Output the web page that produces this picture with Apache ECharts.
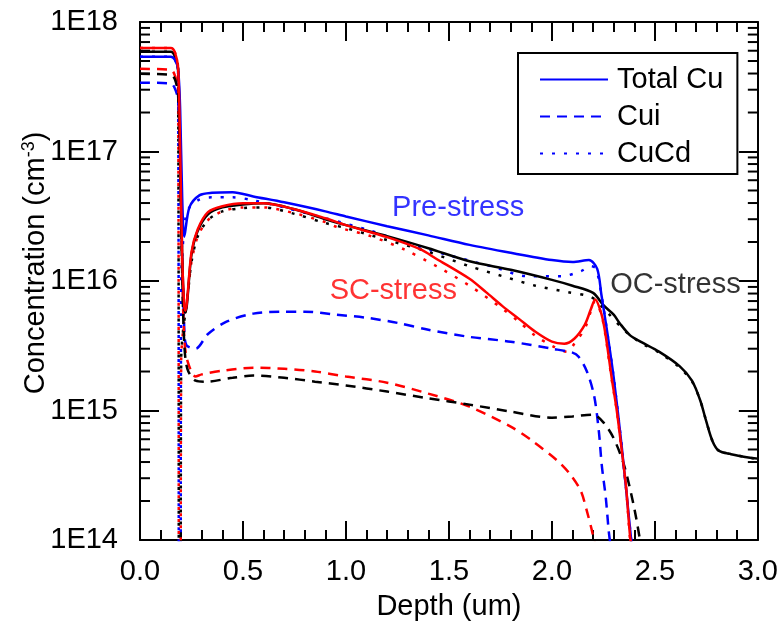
<!DOCTYPE html>
<html>
<head>
<meta charset="utf-8">
<script src="https://cdn.jsdelivr.net/npm/echarts@6/dist/echarts.min.js"></script>
<style>
  html, body { margin: 0; padding: 0; background: #fff; }
  #chart { width: 781px; height: 626px; }
</style>
</head>
<body>
<div id="chart"></div>
<script>
// Cu depth profiles: [depth (um), concentration (cm^-3)]
// Pre-stress (blue)
const preTotal = [[0, 5.4e17], [0.15, 5.4e17], [0.17, 5.1e17], [0.185, 4.3e17], [0.195, 2.1e17], [0.205, 4.3e16], [0.215, 2.2e16], [0.24, 3.7e16], [0.29, 4.6e16], [0.35, 4.8e16], [0.45, 4.85e16], [0.55, 4.5e16], [0.7, 4.05e16], [0.9, 3.45e16], [1.0, 3.15e16], [1.2, 2.65e16], [1.4, 2.25e16], [1.6, 1.9e16], [1.8, 1.65e16], [2.0, 1.45e16], [2.1, 1.4e16], [2.18, 1.45e16], [2.22, 1.24e16], [2.24, 7.9e15], [2.27, 3.9e15], [2.3, 1.8e15], [2.34, 5.1e14], [2.385, 1.0e14], [2.4, 6e13]];
const preCui = [[0, 3.4e17], [0.15, 3.35e17], [0.17, 3.05e17], [0.185, 2.5e17], [0.195, 8.7e16], [0.205, 1.5e16], [0.215, 4.3e15], [0.225, 3.2e15], [0.27, 3.0e15], [0.33, 3.9e15], [0.42, 4.85e15], [0.55, 5.6e15], [0.7, 5.8e15], [0.8, 5.8e15], [0.95, 5.5e15], [1.1, 5.2e15], [1.25, 4.75e15], [1.4, 4.2e15], [1.6, 3.7e15], [1.8, 3.4e15], [2.0, 3.0e15], [2.1, 2.8e15], [2.13, 2.6e15], [2.17, 2.0e15], [2.205, 1.3e15], [2.228, 6.9e14], [2.242, 3.8e14], [2.262, 2.1e14], [2.276, 1.17e14], [2.285, 9e13]];
const preCuCd = [[0, 5.4e17], [0.15, 5.4e17], [0.17, 5.1e17], [0.185, 4.3e17], [0.19, 1e12], [0.196, 1e12], [0.2, 1.0e16], [0.21, 2.1e16], [0.22, 3.0e16], [0.24, 3.7e16], [0.29, 4.27e16], [0.35, 4.43e16], [0.45, 4.43e16], [0.55, 4.2e16], [0.7, 3.7e16], [0.9, 3.05e16], [1.1, 2.5e16], [1.3, 1.95e16], [1.5, 1.58e16], [1.72, 1.28e16], [1.88, 1.09e16], [2.05, 1.09e16], [2.14, 1.19e16], [2.19, 1.3e16], [2.215, 1.24e16], [2.24, 7.9e15], [2.27, 3.9e15], [2.3, 1.8e15], [2.34, 5.1e14], [2.385, 1.0e14], [2.4, 6e13]];

// SC-stress (red)
const scTotal = [[0, 6.3e17], [0.15, 6.3e17], [0.17, 5.8e17], [0.185, 4.4e17], [0.195, 1.04e17], [0.205, 1.48e16], [0.215, 6.3e15], [0.22, 5.9e15], [0.25, 1.67e16], [0.28, 2.5e16], [0.33, 3.4e16], [0.4, 3.78e16], [0.5, 3.98e16], [0.6, 3.98e16], [0.75, 3.58e16], [0.9, 3.05e16], [1.0, 2.7e16], [1.2, 2.18e16], [1.36, 1.76e16], [1.44, 1.48e16], [1.6, 1.04e16], [1.68, 8.2e15], [1.76, 6.4e15], [1.84, 5.1e15], [1.92, 4.05e15], [2.0, 3.4e15], [2.06, 3.28e15], [2.11, 3.6e15], [2.16, 4.6e15], [2.19, 6.1e15], [2.21, 7.2e15], [2.24, 5.6e15], [2.26, 3.9e15], [2.29, 1.8e15], [2.315, 1.0e15], [2.34, 4.8e14], [2.36, 2.6e14], [2.38, 1.05e14], [2.39, 8.5e13]];
const scCui = [[0, 4.35e17], [0.15, 4.27e17], [0.17, 3.84e17], [0.185, 3.0e17], [0.195, 8.7e16], [0.205, 1.24e16], [0.215, 3.6e15], [0.23, 2.43e15], [0.27, 1.83e15], [0.3, 1.9e15], [0.4, 2.03e15], [0.55, 2.14e15], [0.7, 2.1e15], [0.85, 2.0e15], [1.0, 1.83e15], [1.2, 1.64e15], [1.4, 1.35e15], [1.6, 1.07e15], [1.8, 7.5e14], [1.9, 5.9e14], [2.03, 4.05e14], [2.09, 3.2e14], [2.14, 2.4e14], [2.17, 1.67e14], [2.195, 1.17e14], [2.21, 9e13]];
const scCuCd = [[0, 6.3e17], [0.15, 6.3e17], [0.17, 5.8e17], [0.185, 4.4e17], [0.19, 1e12], [0.196, 1e12], [0.2, 2.5e15], [0.21, 4.3e15], [0.22, 5.6e15], [0.235, 8.7e15], [0.25, 1.4e16], [0.28, 2.2e16], [0.33, 2.95e16], [0.4, 3.45e16], [0.5, 3.7e16], [0.6, 3.7e16], [0.75, 3.34e16], [0.9, 2.85e16], [0.96, 2.6e16], [1.12, 2.22e16], [1.28, 1.76e16], [1.44, 1.3e16], [1.6, 9.2e15], [1.76, 6.1e15], [1.84, 4.84e15], [1.92, 3.78e15], [2.0, 3.16e15], [2.075, 2.84e15], [2.11, 3.3e15], [2.16, 4.3e15], [2.19, 5.9e15], [2.21, 7.0e15], [2.24, 5.5e15], [2.26, 3.8e15], [2.29, 1.75e15], [2.315, 1.0e15], [2.34, 4.7e14], [2.36, 2.5e14], [2.38, 1.0e14], [2.39, 8.3e13]];

// OC-stress (black)
const ocTotal = [[0, 5.9e17], [0.15, 5.9e17], [0.17, 5.4e17], [0.185, 4.3e17], [0.195, 1.04e17], [0.205, 1.48e16], [0.215, 6.1e15], [0.22, 5.7e15], [0.25, 1.6e16], [0.28, 2.43e16], [0.33, 3.27e16], [0.4, 3.7e16], [0.5, 3.9e16], [0.6, 3.98e16], [0.75, 3.58e16], [0.9, 3.0e16], [1.0, 2.7e16], [1.2, 2.22e16], [1.4, 1.79e16], [1.6, 1.42e16], [1.8, 1.22e16], [2.0, 1.02e16], [2.1, 9.2e15], [2.2, 8.1e15], [2.25, 6.5e15], [2.3, 5.5e15], [2.33, 4.7e15], [2.38, 3.8e15], [2.43, 3.4e15], [2.52, 2.85e15], [2.62, 2.2e15], [2.68, 1.7e15], [2.72, 1.2e15], [2.75, 8.2e14], [2.78, 5.8e14], [2.81, 4.9e14], [2.87, 4.6e14], [2.97, 4.3e14], [3.0, 4.25e14]];
const ocCui = [[0, 3.98e17], [0.15, 3.9e17], [0.17, 3.6e17], [0.185, 2.75e17], [0.195, 7.9e16], [0.205, 1.13e16], [0.215, 3.3e15], [0.23, 2.1e15], [0.27, 1.7e15], [0.32, 1.67e15], [0.45, 1.79e15], [0.55, 1.86e15], [0.7, 1.79e15], [0.85, 1.67e15], [1.0, 1.56e15], [1.2, 1.4e15], [1.4, 1.24e15], [1.6, 1.11e15], [1.8, 9.8e14], [2.0, 8.8e14], [2.1, 9.0e14], [2.2, 9.3e14], [2.25, 8.1e14], [2.3, 6.1e14], [2.35, 3.8e14], [2.4, 1.76e14], [2.43, 9.5e13]];
const ocCuCd = [[0, 5.9e17], [0.15, 5.9e17], [0.17, 5.4e17], [0.185, 4.3e17], [0.19, 1e12], [0.196, 1e12], [0.2, 2.5e15], [0.21, 4.3e15], [0.22, 5.6e15], [0.235, 8.7e15], [0.25, 1.4e16], [0.28, 2.2e16], [0.33, 2.95e16], [0.4, 3.45e16], [0.5, 3.65e16], [0.6, 3.7e16], [0.75, 3.3e16], [0.9, 2.8e16], [1.0, 2.56e16], [1.2, 2.07e16], [1.39, 1.7e16], [1.6, 1.3e16], [1.76, 1.09e16], [1.92, 9.2e15], [2.08, 8.2e15], [2.17, 7.7e15], [2.21, 7.2e15], [2.24, 6.4e15], [2.27, 5.7e15], [2.36, 4.05e15], [2.43, 3.35e15], [2.52, 2.8e15], [2.62, 2.15e15], [2.68, 1.68e15], [2.72, 1.2e15], [2.75, 8.2e14], [2.78, 5.8e14], [2.81, 4.9e14], [2.87, 4.6e14], [2.97, 4.3e14], [3.0, 4.25e14]];

// Curve annotations: [depth, concentration, text, colour]
const annotations = [
  [1.545, 3.65e16, 'Pre-stress', '#0000ff'],
  [1.23, 8.3e15, 'SC-stress', '#ff0000'],
  [2.6, 9.3e15, 'OC-stress', '#000000']
];

const legendNames = ['Total Cu', 'Cui', 'CuCd'];
const depthRange = [0, 3];
const concRange = [1e14, 1e18];

const FONT = '"Liberation Sans", Arial, sans-serif';
const FS = 29;
const BLUE = '#0000ff', RED = '#ff0000', BLACK = '#000000';

// minor ticks of the log axis (2..9 per decade)
const logMinor = [];
for (let e = 14; e < 18; e++) {
  for (let m = 2; m <= 9; m++) logMinor.push([0, m * Math.pow(10, e)]);
}

function curve(name, data, color, kind) {
  const dash = kind === 'dashed' ? [10, 7] : kind === 'dotted' ? [3, 9] : 'solid';
  return {
    name: name,
    type: 'line',
    data: data,
    symbol: 'none',
    showSymbol: false,
    smooth: 0.3,
    clip: true,
    silent: true,
    z: kind === 'solid' ? 4 : kind === 'dashed' ? 3 : 2,
    lineStyle: { color: color, width: 2.5, type: dash, cap: 'butt' },
    itemStyle: { color: color }
  };
}

const axisLineStyle = { color: '#000', width: 2 };

const option = {
  animation: false,
  backgroundColor: '#fff',
  grid: { left: 140, right: 15, top: 22, bottom: 84, containLabel: false },
  legend: {
    data: legendNames,
    orient: 'vertical',
    left: 518,
    top: 53,
    itemWidth: 68,
    itemHeight: 14,
    itemGap: 8,
    selectedMode: false,
    borderColor: '#000',
    borderWidth: 2,
    borderRadius: 0,
    padding: [12, 14, 6, 21],
    itemStyle: { opacity: 0 },
    textStyle: { fontSize: FS, color: '#000', fontFamily: FONT, padding: [0, 0, 0, 4] }
  },
  xAxis: [
    {
      type: 'value', min: depthRange[0], max: depthRange[1], interval: 0.5, position: 'bottom',
      axisLine: { show: true, onZero: false, lineStyle: axisLineStyle },
      axisTick: { show: true, inside: true, length: 19, lineStyle: axisLineStyle },
      minorTick: { show: true, splitNumber: 5, length: 10, lineStyle: axisLineStyle },
      splitLine: { show: false },
      axisLabel: { color: '#000', fontSize: FS, fontFamily: FONT, margin: 17, formatter: v => v.toFixed(1) },
      name: 'Depth (um)', nameLocation: 'middle', nameGap: 52, nameMoveOverlap: false,
      nameTextStyle: { color: '#000', fontSize: FS, fontFamily: FONT }
    },
    {
      type: 'value', min: depthRange[0], max: depthRange[1], interval: 0.5, position: 'top',
      axisLine: { show: true, onZero: false, lineStyle: axisLineStyle },
      axisTick: { show: true, inside: true, length: 19, lineStyle: axisLineStyle },
      minorTick: { show: true, splitNumber: 5, length: 10, lineStyle: axisLineStyle },
      splitLine: { show: false },
      axisLabel: { show: false }
    }
  ],
  yAxis: [
    {
      type: 'log', logBase: 10, min: concRange[0], max: concRange[1], position: 'left',
      axisLine: { show: true, onZero: false, lineStyle: axisLineStyle },
      axisTick: { show: true, inside: true, length: 19, lineStyle: axisLineStyle },
      splitLine: { show: false },
      axisLabel: {
        color: '#000', fontSize: FS, fontFamily: FONT, margin: 22,
        formatter: v => '1E' + Math.round(Math.log10(v))
      },
      name: '{a|Concentration (cm}{s|-3}{a|)}',
      nameLocation: 'middle', nameGap: 88, nameRotate: 90, nameMoveOverlap: false,
      nameTextStyle: {
        color: '#000', fontFamily: FONT, padding: [0, 0, 0, 36],
        rich: {
          a: { fontSize: FS, fontFamily: FONT, color: '#000' },
          s: { fontSize: 18, fontFamily: FONT, color: '#000', verticalAlign: 'top', padding: [0, 0, 14, 0] }
        }
      }
    },
    {
      type: 'log', logBase: 10, min: concRange[0], max: concRange[1], position: 'right',
      axisLine: { show: true, onZero: false, lineStyle: axisLineStyle },
      axisTick: { show: true, inside: true, length: 19, lineStyle: axisLineStyle },
      splitLine: { show: false },
      axisLabel: { show: false }
    }
  ],
  series: [
    curve('CuCd', preCuCd, BLUE, 'dotted'),
    curve('CuCd SC', scCuCd, RED, 'dotted'),
    curve('CuCd OC', ocCuCd, BLACK, 'dotted'),
    curve('Cui', preCui, BLUE, 'dashed'),
    curve('Cui SC', scCui, RED, 'dashed'),
    curve('Cui OC', ocCui, BLACK, 'dashed'),
    curve('Total Cu OC', ocTotal, BLACK, 'solid'),
    curve('Total Cu', preTotal, BLUE, 'solid'),
    curve('Total Cu SC', scTotal, RED, 'solid'),
    {
      name: 'log minor ticks',
      type: 'custom',
      silent: true,
      z: 5,
      data: logMinor,
      renderItem: function (params, api) {
        const v = api.value(1);
        const pL = api.coord([depthRange[0], v]);
        const pR = api.coord([depthRange[1], v]);
        return {
          type: 'group',
          children: [
            { type: 'line', shape: { x1: pL[0], y1: pL[1], x2: pL[0] + 10, y2: pL[1] }, style: { stroke: '#000', lineWidth: 2 } },
            { type: 'line', shape: { x1: pR[0], y1: pR[1], x2: pR[0] - 10, y2: pR[1] }, style: { stroke: '#000', lineWidth: 2 } }
          ]
        };
      }
    },
    {
      name: 'annotations',
      type: 'scatter',
      silent: true,
      symbolSize: 0,
      z: 6,
      data: annotations.map(a => ({
        value: [a[0], a[1]],
        label: { show: true, position: 'inside', formatter: a[2], color: a[3], fontSize: FS, fontFamily: FONT }
      }))
    }
  ]
};

const chart = echarts.init(document.getElementById('chart'), null, { renderer: 'canvas' });
chart.setOption(option);
</script>
</body>
</html>
